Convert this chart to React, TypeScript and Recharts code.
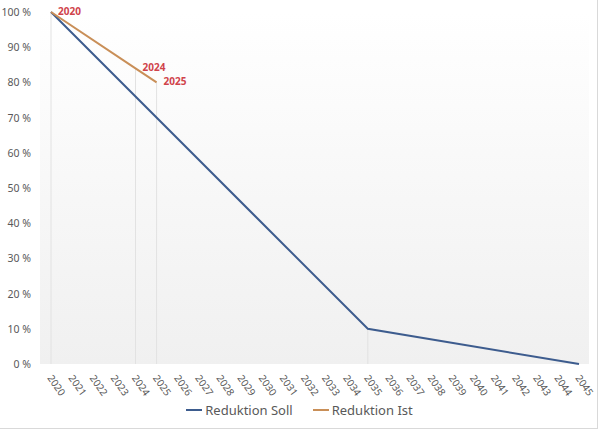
import React from 'react';
import { LineChart, Line, XAxis, YAxis, CartesianGrid, Legend, ReferenceLine, LabelList } from 'recharts';

const years = ['2020','2021','2022','2023','2024','2025','2026','2027','2028','2029','2030','2031','2032','2033','2034','2035','2036','2037','2038','2039','2040','2041','2042','2043','2044','2045'];
const sollValues: (number | null)[] = [100, null, null, null, null, null, null, null, null, null, null, null, null, null, null, 10, null, null, null, null, null, null, null, null, null, 0];
const istValues: (number | null)[] = [100, null, null, null, 84, 80, null, null, null, null, null, null, null, null, null, null, null, null, null, null, null, null, null, null, null, null];
const yTicks = [0, 10, 20, 30, 40, 50, 60, 70, 80, 90, 100];

const SOLL_COLOR = '#3d5c8e';
const IST_COLOR = '#c98f58';
const TEXT_COLOR = '#595959';
const LABEL_COLOR = '#d0434b';
const FONT = '"Noto Sans", "Open Sans", sans-serif';

const data = years.map((y, i) => ({ year: y, soll: sollValues[i], ist: istValues[i] }));

const dropLines = data
  .map((d) => {
    const vals = [d.soll, d.ist].filter((v): v is number => v != null);
    return { year: d.year, top: vals.length ? Math.max(...vals) : 0 };
  })
  .filter((d) => d.top > 0);

const XTick = (props: any) => {
  const { x, y, payload } = props;
  return (
    <text
      transform={`translate(${x - 4},${y + 6}) rotate(55)`}
      textAnchor="start"
      fontSize={10}
      fill={TEXT_COLOR}
      fontFamily={FONT}
    >
      {payload.value}
    </text>
  );
};

const YTick = (props: any) => {
  const { x, y, payload } = props;
  return (
    <text x={x - 1} y={y} textAnchor="end" dominantBaseline="central" fontSize={10.5} fill={TEXT_COLOR} fontFamily={FONT}>
      {`${payload.value} %`}
    </text>
  );
};

const YearLabel = (props: any) => {
  const { x, y, index, value } = props;
  if (istValues[index] == null || x == null || y == null) return null;
  return (
    <text x={x + 7} y={y - 1} dominantBaseline="central" fontSize={10} fontWeight="bold" fill={LABEL_COLOR} fontFamily={FONT}>
      {value}
    </text>
  );
};

const LegendContent = () => (
  <div style={{ height: 20, paddingLeft: 10, display: 'flex', justifyContent: 'center', alignItems: 'center', fontFamily: FONT, fontSize: 13, color: TEXT_COLOR }}>
    <span style={{ display: 'flex', alignItems: 'center', marginRight: 20 }}>
      <span style={{ display: 'inline-block', width: 16, height: 2, background: SOLL_COLOR, marginRight: 3 }} />
      Reduktion Soll
    </span>
    <span style={{ display: 'flex', alignItems: 'center' }}>
      <span style={{ display: 'inline-block', width: 16, height: 2, background: IST_COLOR, marginRight: 3 }} />
      Reduktion Ist
    </span>
  </div>
);

export default function App() {
  return (
    <div style={{ position: 'absolute', left: 0, top: 0, width: 600, height: 430, background: '#fff' }}>
      <LineChart width={600} height={430} data={data} margin={{ top: 12, right: 11, left: 0, bottom: 10 }}>
        <defs>
          <linearGradient id="plotBg" x1="0" y1="0" x2="0" y2="1">
            <stop offset="0%" stopColor="#ffffff" />
            <stop offset="100%" stopColor="#f0f0f0" />
          </linearGradient>
        </defs>
        <CartesianGrid horizontal={false} vertical={false} fill="url(#plotBg)" fillOpacity={1} stroke="none" />
        <XAxis
          dataKey="year"
          interval={0}
          padding={{ left: 11, right: 10 }}
          tickLine={false}
          axisLine={false}
          height={36}
          tick={<XTick />}
        />
        <YAxis
          domain={[0, 100]}
          ticks={yTicks}
          width={40}
          tickLine={false}
          axisLine={false}
          tick={<YTick />}
        />
        {dropLines.map((d) => (
          <ReferenceLine
            key={d.year}
            segment={[{ x: d.year, y: d.top }, { x: d.year, y: 0 }]}
            stroke="#e2e2e2"
            strokeWidth={1}
          />
        ))}
        <Line
          type="linear"
          dataKey="soll"
          name="Reduktion Soll"
          stroke={SOLL_COLOR}
          strokeWidth={2}
          dot={false}
          activeDot={false}
          connectNulls
          isAnimationActive={false}
        />
        <Line
          type="linear"
          dataKey="ist"
          name="Reduktion Ist"
          stroke={IST_COLOR}
          strokeWidth={2}
          dot={false}
          activeDot={false}
          connectNulls
          isAnimationActive={false}
        >
          <LabelList dataKey="year" content={<YearLabel />} />
        </Line>
        <Legend verticalAlign="bottom" height={20} content={<LegendContent />} />
      </LineChart>
      <div style={{ position: 'absolute', left: 0, top: 0, width: 597, height: 428, borderRight: '1px solid #d9d9d9', borderBottom: '1px solid #d9d9d9', pointerEvents: 'none' }} />
    </div>
  );
}
